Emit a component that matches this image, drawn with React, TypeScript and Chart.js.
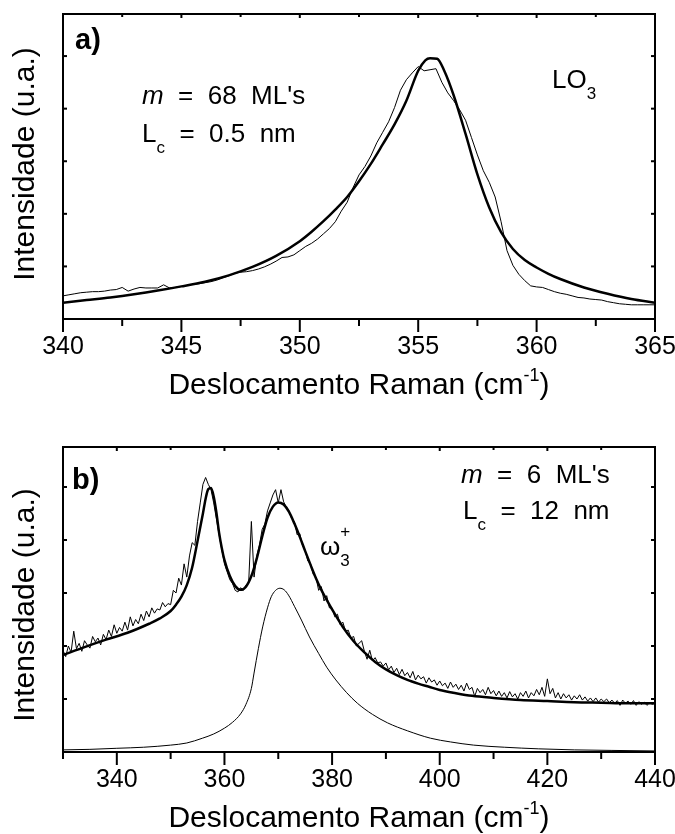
import { useEffect, useRef } from 'react';
import { Chart, registerables } from 'chart.js';
Chart.register(...registerables);

const FONT = '"Liberation Sans", Arial, Helvetica, sans-serif';

// ---------- Panel a ----------
const xMajorA = [340, 345, 350, 355, 360, 365];
const xMinorA = [342.5, 347.5, 352.5, 357.5, 362.5];
const yMajorA = [1, 2, 3, 4, 5];

const expA: [number, number][] = [
  [340.0, 0.44], [340.25, 0.46], [340.5, 0.48], [340.75, 0.5], [341.0, 0.51], [341.25, 0.52], [341.5, 0.52], [341.75, 0.53],
  [342.0, 0.55], [342.25, 0.56], [342.5, 0.6], [342.75, 0.53], [343.0, 0.57], [343.25, 0.6], [343.5, 0.59], [343.75, 0.59],
  [344.0, 0.59], [344.25, 0.65], [344.5, 0.59], [344.75, 0.6], [345.0, 0.62], [345.25, 0.64], [345.5, 0.66], [345.75, 0.67],
  [346.0, 0.69], [346.25, 0.71], [346.5, 0.74], [346.75, 0.78], [347.0, 0.82], [347.25, 0.87], [347.5, 0.89], [347.75, 0.9],
  [348.0, 0.92], [348.25, 0.95], [348.5, 0.99], [348.75, 1.04], [349.0, 1.1], [349.25, 1.17], [349.5, 1.18], [349.75, 1.22],
  [350.0, 1.3], [350.25, 1.38], [350.5, 1.44], [350.75, 1.52], [351.0, 1.62], [351.25, 1.72], [351.5, 1.85], [351.75, 2.05],
  [352.0, 2.22], [352.25, 2.5], [352.5, 2.74], [352.75, 2.9], [353.0, 3.1], [353.25, 3.35], [353.5, 3.55], [353.75, 3.75],
  [354.0, 4.02], [354.25, 4.35], [354.5, 4.55], [354.75, 4.68], [355.0, 4.8], [355.25, 4.72], [355.5, 4.74], [355.75, 4.76],
  [356.0, 4.5], [356.25, 4.3], [356.5, 4.15], [356.75, 3.98], [357.0, 3.78], [357.25, 3.45], [357.5, 3.12], [357.75, 2.82],
  [358.0, 2.6], [358.25, 2.32], [358.5, 1.85], [358.75, 1.3], [359.0, 1.02], [359.25, 0.85], [359.5, 0.73], [359.75, 0.63],
  [360.0, 0.61], [360.25, 0.6], [360.5, 0.56], [360.75, 0.52], [361.0, 0.49], [361.25, 0.47], [361.5, 0.44], [361.75, 0.41],
  [362.0, 0.4], [362.25, 0.38], [362.5, 0.37], [362.75, 0.36], [363.0, 0.33], [363.25, 0.31], [363.5, 0.29], [363.75, 0.28],
  [364.0, 0.27], [364.25, 0.27], [364.5, 0.27], [364.75, 0.27], [365.0, 0.27],
];

const fitA: [number, number][] = [
  [340, 0.31], [341, 0.36], [342, 0.41], [343, 0.47], [344, 0.54], [345, 0.62], [346, 0.71], [347, 0.83], [348, 0.99],
  [349, 1.2], [350, 1.48], [350.5, 1.66], [351, 1.86], [351.5, 2.08], [352, 2.32], [352.5, 2.62], [353, 2.95], [353.5, 3.32],
  [354, 3.7], [354.5, 4.15], [355, 4.72], [355.3, 4.92], [355.5, 4.96], [355.8, 4.95], [356.1, 4.72], [356.5, 4.25],
  [357, 3.52], [357.5, 2.75], [358, 2.12], [358.5, 1.65], [359, 1.33], [359.5, 1.12], [360, 0.98], [360.5, 0.86],
  [361, 0.76], [362, 0.6], [363, 0.48], [364, 0.38], [365, 0.31],
];

// ---------- Panel b ----------
const xMajorB = [340, 360, 380, 400, 420, 440];
const xMinorB = [330, 350, 370, 390, 410, 430];
const yMajorB = [1, 2, 3, 4, 5];

const expB: [number, number][] = [
  [330.0, 1.92], [330.5, 1.8], [331.0, 2.0], [331.5, 1.88], [332.0, 2.28], [332.5, 1.95], [333.0, 2.05], [333.5, 1.9],
  [334.0, 2.1], [334.5, 2.02], [335.0, 1.96], [335.5, 2.18], [336.0, 2.08], [336.5, 2.15], [337.0, 2.02], [337.5, 2.22],
  [338.0, 2.12], [338.5, 2.3], [339.0, 2.18], [339.5, 2.4], [340.0, 2.24], [340.5, 2.35], [341.0, 2.28], [341.5, 2.45],
  [342.0, 2.3], [342.5, 2.55], [343.0, 2.38], [343.5, 2.5], [344.0, 2.42], [344.5, 2.6], [345.0, 2.48], [345.5, 2.66],
  [346.0, 2.55], [346.5, 2.72], [347.0, 2.62], [347.5, 2.7], [348.0, 2.68], [348.5, 2.82], [349.0, 2.74], [349.5, 2.8],
  [350.0, 2.78], [350.5, 3.05], [351.0, 3.0], [351.5, 3.28], [352.0, 3.15], [352.5, 3.55], [353.0, 3.3], [353.5, 3.7],
  [354.0, 3.95], [354.5, 3.9], [355.0, 4.35], [355.5, 4.7], [356.0, 5.05], [356.5, 5.18], [357.0, 5.05], [357.5, 4.95],
  [358.0, 4.7], [358.5, 4.4], [359.0, 4.1], [359.5, 3.82], [360.0, 3.55], [360.5, 3.4], [361.0, 3.25], [361.5, 3.18],
  [362.0, 3.05], [362.5, 3.02], [363.0, 3.1], [363.5, 3.05], [364.0, 3.15], [364.5, 3.2], [365.0, 4.35], [365.5, 3.3],
  [366.0, 3.7], [366.5, 3.9], [367.0, 4.2], [367.5, 4.3], [368.0, 4.55], [368.5, 4.7], [369.0, 4.85], [369.5, 4.95],
  [370.0, 4.7], [370.5, 4.95], [371.0, 4.72], [371.5, 4.62], [372.0, 4.55], [372.5, 4.4], [373.0, 4.35], [373.5, 4.1],
  [374.0, 4.12], [374.5, 3.9], [375.0, 3.8], [375.5, 3.6], [376.0, 3.55], [376.5, 3.35], [377.0, 3.3], [377.5, 3.05],
  [378.0, 3.12], [378.5, 2.85], [379.0, 2.95], [379.5, 2.72], [380.0, 2.72], [380.5, 2.55], [381.0, 2.6], [381.5, 2.4],
  [382.0, 2.45], [382.5, 2.28], [383.0, 2.3], [383.5, 2.15], [384.0, 2.18], [384.5, 2.0], [385.0, 2.05], [385.5, 2.1],
  [386.0, 1.9], [386.5, 1.75], [387.0, 1.92], [387.5, 1.72], [388.0, 1.78], [388.5, 1.68], [389.0, 1.7], [389.5, 1.62],
  [390.0, 1.68], [390.5, 1.55], [391.0, 1.62], [391.5, 1.5], [392.0, 1.58], [392.5, 1.46], [393.0, 1.56], [393.5, 1.44],
  [394.0, 1.5], [394.5, 1.4], [395.0, 1.52], [395.5, 1.36], [396.0, 1.45], [396.5, 1.38], [397.0, 1.42], [397.5, 1.3],
  [398.0, 1.4], [398.5, 1.32], [399.0, 1.36], [399.5, 1.26], [400.0, 1.34], [400.5, 1.25], [401.0, 1.3], [401.5, 1.2],
  [402.0, 1.32], [402.5, 1.22], [403.0, 1.28], [403.5, 1.18], [404.0, 1.26], [404.5, 1.15], [405.0, 1.3], [405.5, 1.18],
  [406.0, 1.22], [406.5, 1.05], [407.0, 1.2], [407.5, 1.12], [408.0, 1.18], [408.5, 1.08], [409.0, 1.22], [409.5, 1.1],
  [410.0, 1.16], [410.5, 1.06], [411.0, 1.15], [411.5, 1.05], [412.0, 1.12], [412.5, 1.02], [413.0, 1.14], [413.5, 1.04],
  [414.0, 1.1], [414.5, 1.0], [415.0, 1.12], [415.5, 1.05], [416.0, 1.15], [416.5, 1.02], [417.0, 1.12], [417.5, 1.06],
  [418.0, 1.18], [418.5, 1.08], [419.0, 1.22], [419.5, 1.05], [420.0, 1.38], [420.5, 1.1], [421.0, 1.2], [421.5, 1.02],
  [422.0, 1.12], [422.5, 1.0], [423.0, 1.1], [423.5, 1.02], [424.0, 1.08], [424.5, 0.98], [425.0, 1.06], [425.5, 1.0],
  [426.0, 1.08], [426.5, 0.98], [427.0, 1.04], [427.5, 0.96], [428.0, 1.02], [428.5, 0.95], [429.0, 1.02], [429.5, 0.94],
  [430.0, 1.0], [430.5, 0.95], [431.0, 1.0], [431.5, 0.93], [432.0, 0.98], [432.5, 0.92], [433.0, 0.97], [433.5, 0.88],
  [434.0, 0.98], [434.5, 0.92], [435.0, 0.96], [435.5, 0.9], [436.0, 0.97], [436.5, 0.88], [437.0, 0.95], [437.5, 0.9],
  [438.0, 0.94], [438.5, 0.88], [439.0, 0.93], [439.5, 0.9], [440.0, 0.92],
];

const fitB: [number, number][] = [
  [330, 1.83], [334, 1.98], [338, 2.12], [342, 2.25], [346, 2.42], [348, 2.52], [350, 2.66], [351, 2.78], [352, 2.93],
  [353, 3.15], [354, 3.48], [355, 3.98], [356, 4.5], [356.5, 4.78], [357, 4.96], [357.5, 4.98], [358, 4.82], [358.5, 4.52],
  [359, 4.14], [359.5, 3.85], [360, 3.62], [361, 3.32], [362, 3.13], [363, 3.06], [364, 3.12], [365, 3.32], [366, 3.65],
  [367, 4.06], [368, 4.42], [369, 4.63], [370, 4.71], [371, 4.67], [372, 4.53], [373, 4.31], [374, 4.06], [375, 3.79],
  [376, 3.53], [377, 3.28], [378, 3.06], [379, 2.87], [380, 2.69], [382, 2.36], [384, 2.09], [386, 1.88], [388, 1.7],
  [390, 1.56], [392, 1.45], [394, 1.36], [396, 1.29], [398, 1.23], [400, 1.17], [403, 1.11], [406, 1.06], [410, 1.02],
  [415, 0.98], [420, 0.96], [425, 0.94], [430, 0.93], [435, 0.92], [440, 0.92],
];

const compB: [number, number][] = [
  [330, 0.04], [335, 0.05], [340, 0.07], [345, 0.09], [350, 0.13], [353, 0.17], [355.9, 0.26], [358, 0.34], [360, 0.45],
  [361.5, 0.56], [363, 0.72], [364, 0.9], [365, 1.2], [365.5, 1.49], [366.3, 1.95], [367.1, 2.36], [368, 2.72],
  [368.7, 2.93], [369.5, 3.05], [370.3, 3.09], [371.1, 3.06], [371.9, 2.96], [373, 2.75], [374.3, 2.49], [375.8, 2.17],
  [377.5, 1.86], [379, 1.6], [380.7, 1.36], [382.7, 1.12], [384.7, 0.92], [387.5, 0.71], [390.3, 0.55], [394, 0.4],
  [398.3, 0.26], [402, 0.19], [406.3, 0.13], [412, 0.09], [418.3, 0.06], [425, 0.04], [432, 0.03], [440, 0.02],
];

// ---------- texts ----------
const yTitle = 'Intensidade (u.a.)';
const xTitleMain = 'Deslocamento Raman (cm';
const xTitleSup = '-1';
const xTitleEnd = ')';

type Part = { t: string; size: number; style?: string; dy?: number; noAdv?: boolean };
type Note = { x: number; y: number; parts: Part[] };
type Series = { pts: [number, number][]; width: number; smooth: boolean };
type PanelDef = {
  xMin: number; xMax: number; yMax: number;
  xMajor: number[]; xMinor: number[]; yMajor: number[];
  series: Series[]; notes: Note[]; yTitleCenter: number;
};

function drawRich(ctx: CanvasRenderingContext2D, x: number, y: number, parts: Part[], center = false) {
  const fontOf = (p: Part) => `${p.style || ''} ${p.size}px ${FONT}`;
  let total = 0;
  for (const p of parts) {
    ctx.font = fontOf(p);
    if (!p.noAdv) total += ctx.measureText(p.t).width;
  }
  let cx = center ? x - total / 2 : x;
  ctx.textBaseline = 'alphabetic';
  ctx.textAlign = 'left';
  for (const p of parts) {
    ctx.font = fontOf(p);
    ctx.fillText(p.t, cx, y + (p.dy || 0));
    if (!p.noAdv) cx += ctx.measureText(p.t).width;
  }
}

function decoPlugin(p: PanelDef) {
  return {
    id: 'deco',
    afterDraw(chart: any) {
      const { ctx, chartArea: ca, scales } = chart;
      const xs = scales.x;
      const ys = scales.y;
      ctx.save();
      ctx.strokeStyle = '#000';
      ctx.fillStyle = '#000';
      ctx.lineWidth = 2;
      ctx.strokeRect(ca.left, ca.top, ca.right - ca.left, ca.bottom - ca.top);
      const seg = (x1: number, y1: number, x2: number, y2: number) => {
        ctx.beginPath();
        ctx.moveTo(x1, y1);
        ctx.lineTo(x2, y2);
        ctx.stroke();
      };
      for (const v of p.xMajor) {
        const px = xs.getPixelForValue(v);
        seg(px, ca.bottom, px, ca.bottom + 13);
        seg(px, ca.top, px, ca.top + 4);
      }
      for (const v of p.xMinor) {
        const px = xs.getPixelForValue(v);
        seg(px, ca.bottom, px, ca.bottom + 7);
        seg(px, ca.top, px, ca.top + 3);
      }
      for (const v of p.yMajor) {
        const py = ys.getPixelForValue(v);
        seg(ca.left, py, ca.left + 4, py);
        seg(ca.right, py, ca.right - 4, py);
      }
      drawRich(ctx, (ca.left + ca.right) / 2, ca.bottom + 75, [
        { t: xTitleMain, size: 30 },
        { t: xTitleSup, size: 18, dy: -13 },
        { t: xTitleEnd, size: 30 },
      ], true);
      ctx.save();
      ctx.translate(33.5, p.yTitleCenter);
      ctx.rotate(-Math.PI / 2);
      drawRich(ctx, 0, 0, [{ t: yTitle, size: 30 }], true);
      ctx.restore();
      for (const n of p.notes) drawRich(ctx, n.x, n.y, n.parts);
      ctx.restore();
    },
  };
}

function makeConfig(p: PanelDef): any {
  return {
    type: 'line',
    data: {
      datasets: p.series.map((s) => ({
        data: s.pts.map(([x, y]) => ({ x, y })),
        borderColor: '#000',
        borderWidth: s.width,
        pointRadius: 0,
        fill: false,
        tension: 0,
        cubicInterpolationMode: s.smooth ? 'monotone' : 'default',
      })),
    },
    options: {
      responsive: false,
      animation: false,
      devicePixelRatio: 1,
      events: [],
      layout: { padding: { top: 14, right: 20, left: 0, bottom: 0 } },
      plugins: { legend: { display: false }, tooltip: { enabled: false } },
      scales: {
        x: {
          type: 'linear',
          min: p.xMin,
          max: p.xMax,
          afterBuildTicks: (s: any) => {
            s.ticks = p.xMajor.map((v) => ({ value: v }));
          },
          afterFit: (s: any) => {
            s.height = 82;
            s.paddingLeft = 0;
            s.paddingRight = 0;
          },
          grid: { display: false, drawTicks: false },
          border: { display: false },
          ticks: {
            autoSkip: false,
            maxRotation: 0,
            padding: 13,
            color: '#000',
            font: { family: FONT, size: 25 },
          },
        },
        y: {
          type: 'linear',
          min: 0,
          max: p.yMax,
          afterFit: (s: any) => {
            s.width = 63;
          },
          grid: { display: false },
          border: { display: false },
          ticks: { display: false },
        },
      },
    },
    plugins: [decoPlugin(p)],
  };
}

const panelA: PanelDef = {
  xMin: 340, xMax: 365, yMax: 5.8,
  xMajor: xMajorA, xMinor: xMinorA, yMajor: yMajorA,
  series: [
    { pts: expA, width: 1, smooth: false },
    { pts: fitA, width: 2.5, smooth: true },
  ],
  yTitleCenter: 164,
  notes: [
    { x: 75, y: 49, parts: [{ t: 'a)', size: 29, style: 'bold' }] },
    { x: 142, y: 104, parts: [{ t: 'm', size: 26, style: 'italic' }, { t: "  =  68  ML's", size: 26 }] },
    { x: 142, y: 142, parts: [{ t: 'L', size: 26 }, { t: 'c', size: 17, dy: 11 }, { t: '  =  0.5  nm', size: 26 }] },
    { x: 552, y: 88, parts: [{ t: 'LO', size: 26 }, { t: '3', size: 17, dy: 11 }] },
  ],
};

const panelB: PanelDef = {
  xMin: 330, xMax: 440, yMax: 5.755,
  xMajor: xMajorB, xMinor: xMinorB, yMajor: yMajorB,
  series: [
    { pts: expB, width: 1, smooth: false },
    { pts: fitB, width: 2.5, smooth: true },
    { pts: compB, width: 1, smooth: true },
  ],
  yTitleCenter: 172,
  notes: [
    { x: 72, y: 56, parts: [{ t: 'b)', size: 29, style: 'bold' }] },
    { x: 461, y: 50, parts: [{ t: 'm', size: 26, style: 'italic' }, { t: "  =  6  ML's", size: 26 }] },
    { x: 463, y: 86, parts: [{ t: 'L', size: 26 }, { t: 'c', size: 17, dy: 11 }, { t: '  =  12  nm', size: 26 }] },
    { x: 320, y: 122, parts: [{ t: 'ω', size: 26 }, { t: '+', size: 17, dy: -18, noAdv: true }, { t: '3', size: 17, dy: 11 }] },
  ],
};

function Panel({ def, top }: { def: PanelDef; top: number }) {
  const ref = useRef<HTMLCanvasElement>(null);
  useEffect(() => {
    const chart = new Chart(ref.current as HTMLCanvasElement, makeConfig(def));
    return () => chart.destroy();
  }, [def]);
  return (
    <canvas
      ref={ref}
      width={675}
      height={401}
      style={{ position: 'absolute', left: 0, top, width: 675, height: 401 }}
    />
  );
}

export default function App() {
  return (
    <div style={{ position: 'absolute', left: 0, top: 0, width: 675, height: 834, background: '#fff' }}>
      <Panel def={panelA} top={0} />
      <Panel def={panelB} top={433} />
    </div>
  );
}
